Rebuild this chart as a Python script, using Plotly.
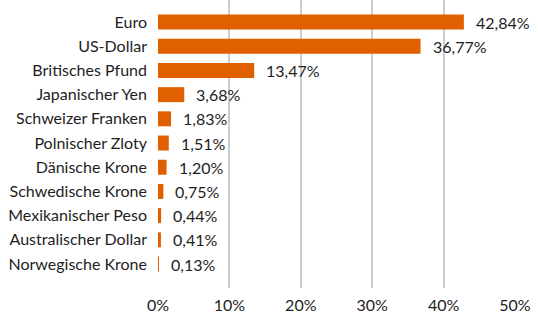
import plotly.graph_objects as go

currencies = [
    "Euro", "US-Dollar", "Britisches Pfund", "Japanischer Yen",
    "Schweizer Franken", "Polnischer Zloty", "Dänische Krone",
    "Schwedische Krone", "Mexikanischer Peso", "Australischer Dollar",
    "Norwegische Krone",
]
shares = [42.84, 36.77, 13.47, 3.68, 1.83, 1.51, 1.20, 0.75, 0.44, 0.41, 0.13]
x_ticks = [0, 10, 20, 30, 40, 50]
x_tick_labels = ["0%", "10%", "20%", "30%", "40%", "50%"]

FONT = "Lato, sans-serif"
BAR = "#E06000"
TEXT = "#1e1e1e"

fig = go.Figure(
    go.Bar(
        x=shares,
        y=currencies,
        orientation="h",
        marker=dict(color=BAR, line=dict(width=0)),
        width=0.62,
        hoverinfo="skip",
    )
)

# value labels to the right of each bar, German decimal comma
for cur, val in zip(currencies, shares):
    fig.add_annotation(
        x=val, y=cur, text=f"{val:.2f}%".replace(".", ","),
        xanchor="left", yanchor="middle", xshift=10, showarrow=False,
        font=dict(family=FONT, size=16, color=TEXT),
    )

fig.update_layout(
    width=538, height=320,
    margin=dict(l=158, r=23, t=0, b=32),
    paper_bgcolor="white", plot_bgcolor="white",
    showlegend=False,
    font=dict(family=FONT, size=16, color=TEXT),
)
fig.update_xaxes(
    range=[0, 50], tickvals=x_ticks, ticktext=x_tick_labels,
    showgrid=True, gridcolor="#cccccc", gridwidth=1.5,
    zeroline=False, showline=False, ticks="", ticklabelstandoff=6,
)
fig.update_yaxes(
    range=[10.99, -0.91], categoryorder="array", categoryarray=currencies,
    showgrid=False, zeroline=False, showline=False, ticks="",
    ticklabelstandoff=10,
)

fig.write_html("out.html")
